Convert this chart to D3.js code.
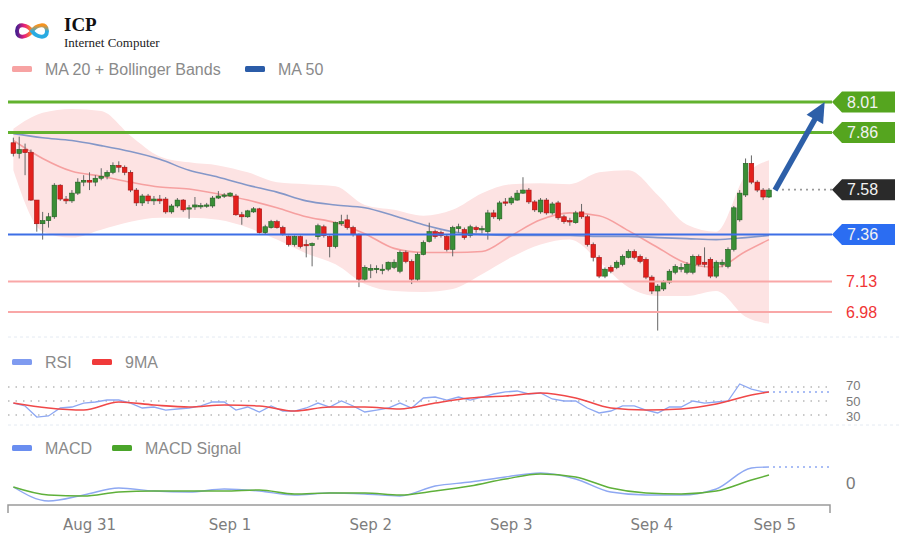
<!DOCTYPE html>
<html><head><meta charset="utf-8">
<script src="https://cdn.jsdelivr.net/npm/d3@7"></script>
<style>html,body{margin:0;padding:0;background:#fff;}svg{display:block;}</style>
</head><body>
<script>
// ---------- DATA (hourly candles, Aug 30 11:00 UTC -> Sep 4 20:00 UTC) ----------
const candleStart = "2024-08-30T11:00:00Z";
const opens = [7.81,7.758,7.777,7.762,7.529,7.413,7.428,7.447,7.602,7.534,
7.525,7.563,7.617,7.626,7.617,7.636,7.646,7.665,7.699,7.69,
7.665,7.578,7.515,7.549,7.525,7.534,7.534,7.471,7.50,7.529,
7.486,7.495,7.50,7.50,7.50,7.539,7.549,7.549,7.549,7.457,
7.447,7.471,7.486,7.369,7.394,7.423,7.394,7.35,7.311,7.35,
7.311,7.306,7.35,7.398,7.35,7.301,7.413,7.432,7.394,7.36,
7.141,7.185,7.19,7.185,7.19,7.199,7.18,7.272,7.228,7.141,
7.262,7.326,7.374,7.369,7.35,7.287,7.389,7.384,7.355,7.394,
7.384,7.374,7.466,7.437,7.52,7.515,7.529,7.563,7.578,7.52,
7.471,7.529,7.466,7.515,7.447,7.428,7.418,7.471,7.447,7.311,
7.248,7.156,7.199,7.199,7.214,7.248,7.277,7.253,7.238,7.151,
7.083,7.093,7.127,7.175,7.19,7.175,7.175,7.253,7.224,7.238,
7.156,7.214,7.204,7.287,7.432,7.554,7.709,7.617,7.578,7.544];
const highs = [7.835,7.84,7.806,7.777,7.529,7.471,7.466,7.612,7.607,7.549,
7.578,7.636,7.651,7.665,7.651,7.685,7.675,7.714,7.719,7.699,
7.675,7.588,7.559,7.559,7.549,7.554,7.544,7.51,7.539,7.534,
7.505,7.544,7.515,7.515,7.549,7.573,7.563,7.568,7.559,7.471,
7.481,7.495,7.491,7.408,7.432,7.432,7.403,7.355,7.355,7.355,
7.335,7.321,7.413,7.408,7.355,7.423,7.457,7.457,7.403,7.365,
7.209,7.214,7.209,7.214,7.228,7.238,7.282,7.282,7.238,7.272,
7.331,7.418,7.384,7.379,7.36,7.403,7.413,7.394,7.408,7.403,
7.403,7.481,7.481,7.525,7.539,7.549,7.578,7.641,7.588,7.529,
7.539,7.539,7.52,7.525,7.457,7.442,7.476,7.51,7.457,7.321,
7.258,7.199,7.209,7.233,7.262,7.287,7.287,7.262,7.248,7.16,
7.117,7.136,7.19,7.214,7.219,7.224,7.262,7.262,7.297,7.248,
7.233,7.238,7.297,7.50,7.578,7.733,7.748,7.626,7.588,7.588];
const lows = [7.743,7.733,7.651,7.525,7.374,7.335,7.394,7.437,7.525,7.51,
7.515,7.554,7.597,7.578,7.597,7.626,7.631,7.656,7.665,7.651,
7.568,7.50,7.50,7.51,7.505,7.51,7.462,7.462,7.491,7.471,
7.437,7.481,7.486,7.491,7.491,7.534,7.539,7.544,7.452,7.408,
7.442,7.466,7.365,7.36,7.389,7.389,7.355,7.301,7.301,7.292,
7.248,7.204,7.335,7.345,7.248,7.292,7.403,7.384,7.35,7.102,
7.131,7.146,7.17,7.165,7.18,7.19,7.17,7.219,7.117,7.131,
7.258,7.321,7.34,7.345,7.277,7.253,7.369,7.335,7.345,7.369,
7.365,7.335,7.437,7.428,7.50,7.505,7.525,7.559,7.51,7.471,
7.462,7.457,7.457,7.432,7.413,7.403,7.413,7.437,7.301,7.228,
7.146,7.146,7.17,7.19,7.204,7.243,7.238,7.219,7.141,7.068,
6.889,7.083,7.117,7.165,7.175,7.165,7.165,7.204,7.199,7.146,
7.146,7.199,7.194,7.277,7.423,7.544,7.607,7.568,7.529,7.539];
const closes = [7.758,7.777,7.762,7.529,7.413,7.428,7.447,7.602,7.534,7.525,
7.563,7.617,7.626,7.617,7.636,7.646,7.665,7.699,7.69,7.665,
7.578,7.515,7.549,7.525,7.534,7.525,7.471,7.50,7.529,7.481,
7.491,7.505,7.502,7.505,7.539,7.549,7.554,7.563,7.457,7.447,
7.476,7.486,7.369,7.398,7.423,7.394,7.36,7.311,7.35,7.301,
7.306,7.316,7.403,7.355,7.301,7.418,7.423,7.394,7.36,7.141,
7.199,7.194,7.194,7.19,7.224,7.224,7.272,7.228,7.141,7.262,
7.321,7.374,7.35,7.355,7.287,7.394,7.398,7.345,7.398,7.384,
7.389,7.466,7.447,7.515,7.515,7.539,7.563,7.578,7.52,7.481,
7.529,7.466,7.51,7.442,7.423,7.423,7.466,7.447,7.311,7.248,
7.156,7.19,7.18,7.224,7.253,7.277,7.248,7.228,7.151,7.083,
7.107,7.127,7.18,7.204,7.199,7.214,7.253,7.214,7.214,7.156,
7.224,7.224,7.287,7.491,7.563,7.709,7.617,7.578,7.544,7.578];

// Indicator samples (every 5 candles + last)
const ma20  = [7.821,7.733,7.670,7.646,7.617,7.593,7.583,7.559,7.529,7.491,7.447,7.418,7.364,7.292,7.272,7.272,7.277,7.355,7.432,7.466,7.452,7.379,7.296,7.219,7.199,7.277,7.335];
const bbUpper=[7.879,7.957,7.976,7.966,7.845,7.743,7.714,7.699,7.665,7.617,7.607,7.597,7.505,7.481,7.452,7.481,7.563,7.607,7.612,7.607,7.665,7.675,7.554,7.408,7.374,7.651,7.724];
const bbLower=[7.675,7.374,7.345,7.384,7.423,7.442,7.442,7.432,7.394,7.335,7.267,7.214,7.117,7.083,7.078,7.093,7.165,7.248,7.311,7.335,7.228,7.102,7.059,7.059,7.083,6.957,6.923];
const ma50  = [7.855,7.835,7.821,7.796,7.767,7.729,7.675,7.641,7.602,7.568,7.525,7.505,7.491,7.452,7.408,7.374,7.360,7.355,7.355,7.355,7.350,7.350,7.345,7.340,7.335,7.345,7.355];

// RSI (every 2 candles + last) and its 9MA (every 6 candles + last)
const rsi = [47.1,42.9,27.1,28.6,40,41.4,47.1,48.6,51.4,51.4,47.1,40,41.4,37.1,38.6,40,42.9,48.6,48.6,37.1,41.4,34.3,42.9,35.7,35.7,40,47.1,41.4,50,42.9,34.3,37.1,40,47.1,40,54.3,55.7,51.4,55.7,51.4,55.7,60,62.9,64.3,60,61.4,52.9,50,50,40,32.9,35.7,42.9,42.9,37.1,32.9,41.4,41.4,50,47.1,48.6,50,74.3,67.1,62.9,62.9];
const rsiMA = [47.1,40,37.1,48.6,44.3,41.4,44.3,42.9,35.7,41.4,41.4,38.6,47.1,54.3,57.1,61.4,54.3,40,37.1,38.6,45.7,58.6,62.9];
// MACD and signal (every 6 candles + last)
const macd   = [-0.004,-0.018,-0.012,-0.005,-0.008,-0.009,-0.006,-0.008,-0.012,-0.010,-0.011,-0.013,-0.003,0.001,0.006,0.010,0.004,-0.009,-0.012,-0.012,-0.006,0.015,0.016];
const signal = [-0.004,-0.012,-0.013,-0.009,-0.008,-0.008,-0.008,-0.007,-0.011,-0.010,-0.010,-0.012,-0.008,-0.003,0.004,0.009,0.006,-0.005,-0.010,-0.011,-0.008,0.003,0.008];

// Levels
const levels = [
  {v:8.01, kind:"res"}, {v:7.86, kind:"res"}, {v:7.36, kind:"piv"}, {v:7.13, kind:"sup"}, {v:6.98, kind:"sup"}
];
const currentPrice = 7.58;
const target = {price: 8.01, time: "2024-09-05T05:30:00Z"};
const tickDates = ["2024-08-31T00:00:00Z","2024-09-01T00:00:00Z","2024-09-02T00:00:00Z","2024-09-03T00:00:00Z","2024-09-04T00:00:00Z","2024-09-04T21:00:00Z"];
const tickLabels = ["Aug 31","Sep 1","Sep 2","Sep 3","Sep 4","Sep 5"];
const rsiLevels = [70,50,30];

// ---------- CHART ----------
const W=900,H=538;
const svg = d3.select("body").append("svg").attr("width",W).attr("height",H)
  .style("font-family","'Liberation Sans',Arial,sans-serif");

const t0 = new Date(candleStart).getTime();
const tAt = i => new Date(t0 + i*3600e3);
const n = closes.length;
const candles = d3.range(n).map(i=>({t:tAt(i),o:opens[i],h:highs[i],l:lows[i],c:closes[i]}));
const idx5 = d3.range(0,n-4,5).concat([n-1]);
const idx2 = d3.range(0,n-1,2).concat([n-1]);
const idx6 = d3.range(0,n-3,6).concat([n-1]);

const x = d3.scaleUtc().domain([new Date("2024-08-30T10:00:00Z"), new Date("2024-09-05T06:30:00Z")]).range([7.5,830.5]);
const y = d3.scaleLinear().domain([6.98,8.01]).range([312,102]);
const yR = d3.scaleLinear().domain([30,70]).range([415,387]);
const yM = d3.scaleLinear().domain([-0.01,0.01]).range([493,473]);

const defs = svg.append("defs");

// ---- logo ----
const g1 = defs.append("linearGradient").attr("id","lg1").attr("x1","0").attr("x2","1").attr("y1","0").attr("y2","0");
g1.append("stop").attr("offset","0").attr("stop-color","#4b1f8f");
g1.append("stop").attr("offset","0.5").attr("stop-color","#ed1e79");
g1.append("stop").attr("offset","1").attr("stop-color","#f7931e");
const g2 = defs.append("linearGradient").attr("id","lg2").attr("x1","0").attr("x2","0").attr("y1","0").attr("y2","1");
g2.append("stop").attr("offset","0").attr("stop-color","#f7931e");
g2.append("stop").attr("offset","0.55").attr("stop-color","#29abe2");
g2.append("stop").attr("offset","1").attr("stop-color","#29abe2");
svg.append("path").attr("d","M32,31 C28,25 17,22 17,31 C17,40 28,37 32,31").attr("fill","none").attr("stroke","url(#lg1)").attr("stroke-width",4).attr("stroke-linecap","round");
svg.append("path").attr("d","M32,31 C36,25 47,22 47,31 C47,40 36,37 32,31").attr("fill","none").attr("stroke","url(#lg2)").attr("stroke-width",4).attr("stroke-linecap","round");
svg.append("text").attr("x",64).attr("y",31).text("ICP").attr("font-family","'Liberation Serif','DejaVu Serif',serif").attr("font-size",19).attr("font-weight",600).attr("fill","#111");
svg.append("text").attr("x",64).attr("y",47).text("Internet Computer").attr("font-family","'Liberation Serif','DejaVu Serif',serif").attr("font-size",13).attr("fill","#222");

// ---- legends ----
function legend(items, yy){
  items.forEach(it=>{
    svg.append("rect").attr("x",it.x).attr("y",yy-3).attr("width",20).attr("height",6).attr("rx",1.5).attr("fill",it.color);
    svg.append("text").attr("x",it.x+33).attr("y",yy).attr("dy","0.35em").text(it.label).attr("font-size",16).attr("fill","#8a8a8a");
  });
}
legend([{x:12,color:"#f7a3a3",label:"MA 20 + Bollinger Bands"},{x:245,color:"#2b5ca8",label:"MA 50"}],69);
legend([{x:12,color:"#7f9bf0",label:"RSI"},{x:92,color:"#f03a3a",label:"9MA"}],362);
legend([{x:12,color:"#6a8ef0",label:"MACD"},{x:112,color:"#4aa52a",label:"MACD Signal"}],448);

// ---- bollinger band ----
const bandData = idx5.map((i,k)=>({t:tAt(i),u:bbUpper[k],l:bbLower[k],m:ma20[k],m50:ma50[k]}));
svg.append("path").datum(bandData)
  .attr("d",d3.area().x(d=>x(d.t)).y0(d=>y(d.l)).y1(d=>y(d.u)).curve(d3.curveMonotoneX))
  .attr("fill","#fde3e3");
svg.append("path").datum(bandData)
  .attr("d",d3.line().x(d=>x(d.t)).y(d=>y(d.m)).curve(d3.curveMonotoneX))
  .attr("fill","none").attr("stroke","#f6a0a0").attr("stroke-width",1.6);
svg.append("path").datum(bandData)
  .attr("d",d3.line().x(d=>x(d.t)).y(d=>y(d.m50)).curve(d3.curveMonotoneX))
  .attr("fill","none").attr("stroke","#8497c8").attr("stroke-width",1.6);

// ---- faint separators ----
[337,425].forEach(yy=>svg.append("line").attr("x1",8).attr("x2",900).attr("y1",yy).attr("y2",yy)
  .attr("stroke","#e4eaf2").attr("stroke-width",1).attr("stroke-dasharray","3,3"));

// ---- candles ----
const cg = svg.append("g");
cg.selectAll("line.w").data(candles).join("line")
  .attr("x1",d=>x(d.t)).attr("x2",d=>x(d.t)).attr("y1",d=>y(d.h)).attr("y2",d=>y(d.l))
  .attr("stroke","#666").attr("stroke-width",1);
cg.selectAll("rect.b").data(candles).join("rect")
  .attr("x",d=>x(d.t)-2.3).attr("width",4.6)
  .attr("y",d=>y(Math.max(d.o,d.c)))
  .attr("height",d=>Math.max(1.3,Math.abs(y(d.o)-y(d.c))))
  .attr("fill",d=>d.c>=d.o?"#3a8e36":"#e3201c")
  .attr("stroke",d=>d.c>=d.o?"#1f5e1f":"#a51212").attr("stroke-width",0.6);

// ---- level lines ----
const lvColor = {res:"#62b22e",piv:"#3d6fe6",sup:"#f9a7a7"};
const lvWidth = {res:3,piv:2.2,sup:2};
levels.forEach(lv=>{
  svg.append("line").attr("x1",8).attr("x2",832).attr("y1",y(lv.v)).attr("y2",y(lv.v))
    .attr("stroke",lvColor[lv.kind]).attr("stroke-width",lvWidth[lv.kind]);
});

// current price dotted
const last = candles[n-1];
svg.append("line").attr("x1",x(last.t)+7).attr("x2",833).attr("y1",y(currentPrice)).attr("y2",y(currentPrice))
  .attr("stroke","#9a9a9a").attr("stroke-width",1.6).attr("stroke-dasharray","2,4");

// ---- arrow ----
const ax0 = x(last.t)+6, ay0 = y(last.c);
const ax1 = x(new Date(target.time)), ay1 = y(target.price);
const dx = ax1-ax0, dy = ay1-ay0, len = Math.hypot(dx,dy), ux=dx/len, uy=dy/len;
const hl=20, hw=9.5;
const bx = ax1-ux*hl, by = ay1-uy*hl;
svg.append("line").attr("x1",ax0).attr("y1",ay0).attr("x2",bx+ux*2).attr("y2",by+uy*2)
  .attr("stroke","#2d5fa8").attr("stroke-width",5.5);
svg.append("path").attr("d",`M${ax1},${ay1}L${bx-uy*hw},${by+ux*hw}L${bx+uy*hw},${by-ux*hw}Z`).attr("fill","#2d5fa8");

// ---- right tags ----
function tag(v, fill){
  const yc = y(v), x0 = 832;
  svg.append("path").attr("d",`M${x0},${yc}L${x0+10},${yc-10.5}L895,${yc-10.5}L895,${yc+10.5}L${x0+10},${yc+10.5}Z`).attr("fill",fill);
  svg.append("text").attr("x",847).attr("y",yc).attr("dy","0.36em").text(v.toFixed(2)).attr("font-size",16).attr("fill","#f2f2f2");
}
tag(8.01,"#55a51f"); tag(7.86,"#55a51f"); tag(currentPrice,"#2a2a2a"); tag(7.36,"#2b6df2");
levels.filter(l=>l.kind==="sup").forEach(lv=>{
  svg.append("text").attr("x",846).attr("y",y(lv.v)).attr("dy","0.36em").text(lv.v.toFixed(2)).attr("font-size",16).attr("fill","#f03535");
});

// ---- RSI panel ----
const rsiLabelShift = {70:-1.5, 50:0, 30:1.5};
rsiLevels.forEach(v=>{
  svg.append("line").attr("x1",8).attr("x2",830).attr("y1",yR(v)).attr("y2",yR(v))
    .attr("stroke","#b8b8b8").attr("stroke-width",1.3).attr("stroke-dasharray","1.5,6");
  svg.append("text").attr("x",846).attr("y",yR(v)+rsiLabelShift[v]).attr("dy","0.36em").text(v).attr("font-size",13).attr("fill","#7a7a7a");
});
const rsiData = idx2.map((i,k)=>({t:tAt(i),v:rsi[k]}));
const rsiMAData = idx6.map((i,k)=>({t:tAt(i),v:rsiMA[k]}));
svg.append("path").datum(rsiData).attr("d",d3.line().x(d=>x(d.t)).y(d=>yR(d.v)))
  .attr("fill","none").attr("stroke","#8ea8f2").attr("stroke-width",1.3);
svg.append("path").datum(rsiMAData).attr("d",d3.line().x(d=>x(d.t)).y(d=>yR(d.v)).curve(d3.curveMonotoneX))
  .attr("fill","none").attr("stroke","#f04848").attr("stroke-width",1.6);
svg.append("line").attr("x1",x(last.t)+4).attr("x2",830).attr("y1",yR(rsi[rsi.length-1])).attr("y2",yR(rsi[rsi.length-1]))
  .attr("stroke","#8ea8f2").attr("stroke-width",1.6).attr("stroke-dasharray","2,4");

// ---- MACD panel ----
const macdData = idx6.map((i,k)=>({t:tAt(i),m:macd[k],s:signal[k]}));
svg.append("path").datum(macdData).attr("d",d3.line().x(d=>x(d.t)).y(d=>yM(d.m)).curve(d3.curveMonotoneX))
  .attr("fill","none").attr("stroke","#8ea8f2").attr("stroke-width",1.4);
svg.append("path").datum(macdData).attr("d",d3.line().x(d=>x(d.t)).y(d=>yM(d.s)).curve(d3.curveMonotoneX))
  .attr("fill","none").attr("stroke","#5fb03a").attr("stroke-width",1.5);
svg.append("line").attr("x1",x(last.t)+4).attr("x2",830).attr("y1",yM(macd[macd.length-1])).attr("y2",yM(macd[macd.length-1]))
  .attr("stroke","#8ea8f2").attr("stroke-width",1.6).attr("stroke-dasharray","2,4");
svg.append("text").attr("x",846).attr("y",yM(0)).attr("dy","0.36em").text("0").attr("font-size",17).attr("fill","#7a7a7a");

// ---- x axis ----
const axY = 505;
svg.append("path").attr("d",`M8,${axY+8}V${axY}H830V${axY+8}`).attr("fill","none").attr("stroke","#9a9a9a").attr("stroke-width",1.5);
const tickData = tickDates.map((d,k)=>({t:new Date(d),label:tickLabels[k]}));
svg.selectAll("text.tk").data(tickData).join("text")
  .attr("x",d=>x(d.t)).attr("y",525).attr("dy","0.35em").attr("text-anchor","middle")
  .text(d=>d.label).attr("font-family","'DejaVu Sans',sans-serif").attr("font-size",15).attr("fill","#7d7d7d");
</script>
</body></html>
